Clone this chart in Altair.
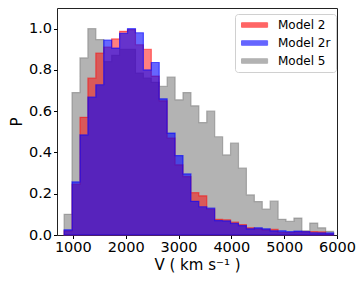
import altair as alt
import pandas as pd

# Bin edges (km/s) of the histograms
BIN_EDGES = [835, 985, 1135, 1285, 1435, 1585, 1735, 1885, 2035, 2185,
             2335, 2485, 2635, 2785, 2935, 3085, 3235, 3385, 3535, 3685,
             3835, 3985, 4135, 4285, 4435, 4585, 4735, 4885, 5035, 5185,
             5335, 5485, 5635, 5785, 5935]

MODELS = ["Model 2", "Model 2r", "Model 5"]
COLORS = ["#ff0000", "#0000ff", "#808080"]

P_MODEL2 = [0.02, 0.245, 0.57, 0.76, 0.882, 0.91, 0.95, 0.987, 0.995, 0.922,
            0.90, 0.77, 0.65, 0.47, 0.34, 0.283, 0.205, 0.19, 0.125, 0.076,
            0.074, 0.062, 0.05, 0.035, 0.03, 0.025, 0.027, 0.012, 0.012, 0.015,
            0.016, 0.016, 0.015, 0.005]
P_MODEL2R = [0.025, 0.257, 0.485, 0.668, 0.728, 0.945, 0.906, 0.977, 1.0, 0.98,
             0.80, 0.836, 0.66, 0.494, 0.385, 0.296, 0.163, 0.137, 0.13, 0.07,
             0.068, 0.056, 0.045, 0.03, 0.035, 0.03, 0.02, 0.02, 0.016, 0.019,
             0.016, 0.011, 0.01, 0.01]
P_MODEL5 = [0.10, 0.69, 0.858, 1.0, 0.947, 0.84, 0.87, 0.90, 0.90, 0.785,
            0.76, 0.74, 0.72, 0.765, 0.655, 0.69, 0.626, 0.545, 0.60, 0.476,
            0.388, 0.445, 0.324, 0.194, 0.162, 0.126, 0.164, 0.076, 0.066, 0.082,
            0.02, 0.058, 0.035, 0.018]

X_TICKS = [1000, 2000, 3000, 4000, 5000, 6000]
Y_TICKS = [0.0, 0.2, 0.4, 0.6, 0.8, 1.0]

SERIES = {"Model 2": P_MODEL2, "Model 2r": P_MODEL2R, "Model 5": P_MODEL5}
OPACITY = {"Model 2": 0.5, "Model 2r": 0.6, "Model 5": 0.6}
DRAW_ORDER = ["Model 5", "Model 2", "Model 2r"]

rows = []
for m, vals in SERIES.items():
    for i, v in enumerate(vals):
        rows.append({"model": m, "v": BIN_EDGES[i], "p": v})
    rows.append({"model": m, "v": BIN_EDGES[len(vals)], "p": vals[-1]})
df = pd.DataFrame(rows)

color_scale = alt.Scale(domain=MODELS, range=COLORS)
legend = alt.Legend(
    title=None, orient="none", legendX=178, legendY=6,
    symbolType="M-1,-0.5L4.8,-0.5L4.8,0.5L-1,0.5Z", symbolSize=81,
    symbolOpacity=0.6, symbolStrokeWidth=1,
    labelFontSize=12, labelFont="DejaVu Sans", labelColor="black", labelOffset=26,
    fillColor="white", strokeColor="#d0d0d0", cornerRadius=3, padding=5, rowPadding=6,
)

x_enc = alt.X("v:Q", scale=alt.Scale(domain=[700, 6000], nice=False, zero=False),
              axis=alt.Axis(values=X_TICKS, format="d", title="V ( km s⁻¹ )", titlePadding=3,
                            labelOverlap=False, labelFlush=False))
y_enc = alt.Y("p:Q", scale=alt.Scale(domain=[0, 1.1], nice=False), stack=None,
              axis=alt.Axis(values=Y_TICKS, format=".1f", title="P", titlePadding=4,
                            labelOverlap=False, labelFlush=False))

layers = []
for m in DRAW_ORDER:
    layers.append(
        alt.Chart(df).transform_filter(alt.datum.model == m)
        .mark_area(interpolate="step-after", fillOpacity=OPACITY[m],
                   strokeOpacity=OPACITY[m], strokeWidth=1.2)
        .encode(x=x_enc, y=y_enc,
                color=alt.Color("model:N", scale=color_scale, legend=legend),
                stroke=alt.Stroke("model:N", scale=color_scale, legend=legend))
    )

chart = alt.layer(*layers).properties(
    width=280, height=227,
    autosize=alt.AutoSizeParams(type="none"),
    padding={"left": 49, "top": 0, "right": 19, "bottom": 41},
).configure_view(stroke="#222222", strokeWidth=1).configure_axis(
    labelFont="DejaVu Sans", titleFont="DejaVu Sans", labelFontSize=14.5, titleFontSize=15,
    labelColor="black", titleColor="black", tickColor="black", tickSize=3.5,
    domain=False, grid=False, titleFontWeight="normal", labelPadding=2,
)

chart.save("out.html", embed_options={"renderer": "svg", "actions": False})
